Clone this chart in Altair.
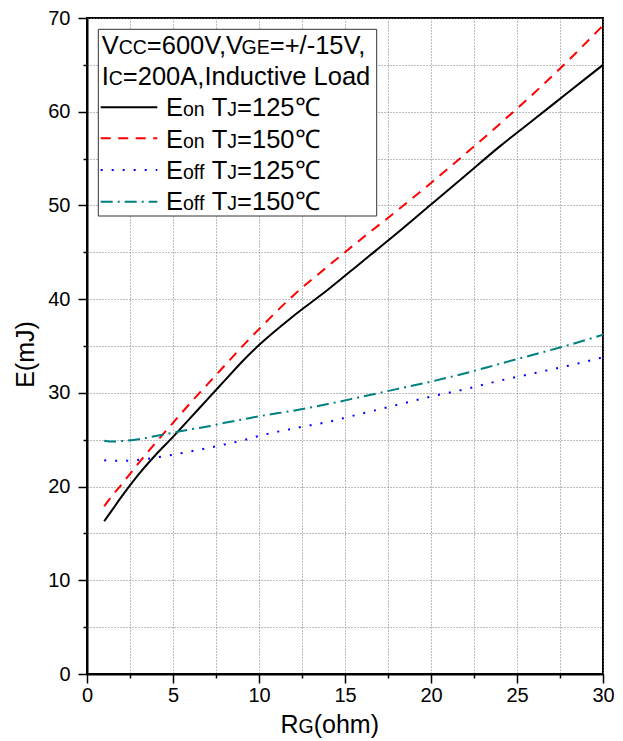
import altair as alt
import pandas as pd

# ---------------- data ----------------
rg = [1, 1.5, 2, 3, 4, 5, 6, 7, 8, 9, 10, 12, 14, 16, 18, 20, 22, 24, 26, 28, 30]
eon_125 = [16.3, 17.6, 18.9, 21.3, 23.4, 25.3, 27.3, 29.3, 31.3, 33.3, 35.1, 38.2, 41.0, 44.0, 47.0, 50.1, 53.2, 56.3, 59.2, 62.1, 65.0]
eon_150 = [17.9, 19.1, 20.2, 22.5, 24.7, 26.8, 28.9, 30.9, 32.9, 34.9, 36.8, 40.4, 43.5, 46.5, 49.4, 52.4, 55.5, 58.7, 62.0, 65.5, 69.2]
eoff_125 = [22.8, 22.75, 22.75, 22.85, 23.1, 23.4, 23.75, 24.1, 24.5, 24.9, 25.4, 26.2, 26.9, 27.8, 28.7, 29.6, 30.4, 31.3, 32.1, 32.9, 33.8]
eoff_150 = [24.9, 24.8, 24.85, 25.05, 25.4, 25.75, 26.1, 26.4, 26.8, 27.15, 27.5, 28.1, 28.8, 29.6, 30.4, 31.2, 32.1, 33.1, 34.1, 35.1, 36.2]

x_ticks = [0, 2.5, 5, 7.5, 10, 12.5, 15, 17.5, 20, 22.5, 25, 27.5, 30]
y_ticks = [0, 5, 10, 15, 20, 25, 30, 35, 40, 45, 50, 55, 60, 65, 70]

header_lines = [
    [("V", 0), ("CC", 1), ("=600V,V", 0), ("GE", 1), ("=+/-15V,", 0)],
    [("I", 0), ("C", 1), ("=200A,Inductive Load", 0)],
]
entry_lines = [
    [("E", 0), ("on", 1), (" T", 0), ("J", 1), ("=125℃", 0)],
    [("E", 0), ("on", 1), (" T", 0), ("J", 1), ("=150℃", 0)],
    [("E", 0), ("off", 1), (" T", 0), ("J", 1), ("=125℃", 0)],
    [("E", 0), ("off", 1), (" T", 0), ("J", 1), ("=150℃", 0)],
]
xtitle = [("R", 0), ("G", 1), ("(ohm)", 0)]

FONT = "Liberation Sans"
W, H = 516, 656

# Arial advance widths (1/1000 em) and a few kerning pairs
AW = {' ': 278, '(': 333, ')': 333, '+': 584, ',': 278, '-': 333, '/': 278, '=': 584,
      'A': 667, 'C': 722, 'E': 667, 'G': 778, 'I': 278, 'J': 500, 'L': 556, 'R': 722,
      'T': 611, 'V': 667, 'a': 556, 'c': 500, 'd': 556, 'e': 556, 'f': 278, 'h': 556,
      'i': 222, 'm': 833, 'n': 556, 'o': 556, 't': 278, 'u': 556, 'v': 500}
for dch in "0123456789":
    AW[dch] = 556
KERN = {("V", ","): -148, ("1", "1"): -74}


def text_width(t, fs):
    w = sum(AW.get(ch, 1000) for ch in t)
    for a, b in zip(t, t[1:]):
        w += KERN.get((a, b), 0)
    return w * fs / 1000


def seg_rows(parts, x0, y, big, small):
    rows = []
    x = x0
    for txt, sm in parts:
        fs = small if sm else big
        lead = len(txt) - len(txt.lstrip(' '))
        x += lead * AW[' '] * fs / 1000
        t = txt.lstrip(' ')
        rows.append({"px": x, "py": y, "t": t, "fs": fs})
        x += text_width(t, fs)
    return rows


rows = []
hdr_y = [36, 67]
for parts, y in zip(header_lines, hdr_y):
    rows += seg_rows(parts, 14.7, y, 25.5, 19.5)
ent_y = [98, 129.5, 160.5, 191.5]
for parts, y in zip(entry_lines, ent_y):
    rows += seg_rows(parts, 79, y, 25.5, 19.5)
rows += seg_rows(xtitle, 193.5, 715, 25, 19.5)
text_df = pd.DataFrame(rows)

# ---------------- chart ----------------
x_scale = alt.Scale(domain=[0, 30], nice=False, zero=False)
y_scale = alt.Scale(domain=[0, 70], nice=False)

x_axis = alt.Axis(
    values=x_ticks, title=None,
    labelExpr="datum.value % 5 === 0 ? datum.label : ''",
    tickSize={"condition": {"test": "datum.value % 5 === 0", "value": 9}, "value": 4},
    labelPadding=2, labelFontSize=20, labelFont=FONT, labelColor="black",
    grid=True, gridDash=[1, 2], gridColor="#7a7a7a", gridWidth=1,
    domainColor="black", domainWidth=2, tickColor="black", tickWidth=1.5,
    labelFlush=False,
)
y_axis = alt.Axis(
    values=y_ticks, title="E(mJ)",
    labelExpr="datum.value % 10 === 0 ? datum.label : ''",
    tickSize={"condition": {"test": "datum.value % 10 === 0", "value": 9}, "value": 4},
    labelPadding=8, labelFontSize=20, labelFont=FONT, labelColor="black",
    grid=True, gridDash=[1, 2], gridColor="#7a7a7a", gridWidth=1,
    domainColor="black", domainWidth=2, tickColor="black", tickWidth=1.5,
    titleFont=FONT, titleFontSize=25, titleFontWeight="normal", titleColor="black",
    titleAngle=270, titleX=-54, titleY=336, titleBaseline="alphabetic", titleAlign="center",
    labelFlush=False,
)

series = [
    (eon_125, "black", None),
    (eon_150, "#ff0000", [10, 7.5]),
    (eoff_125, "#0000ff", [2, 9]),
    (eoff_150, "#008080", [12, 5, 2, 5]),
]

layers = []
for i, (vals, col, dash) in enumerate(series):
    df = pd.DataFrame({"R": rg, "E": vals})
    kw = dict(color=col, strokeWidth=2, interpolate="monotone", clip=True)
    if dash is not None:
        kw["strokeDash"] = dash
    enc = dict(x=alt.X("R:Q", scale=x_scale), y=alt.Y("E:Q", scale=y_scale))
    if i == 0:
        enc = dict(x=alt.X("R:Q", scale=x_scale, axis=x_axis),
                   y=alt.Y("E:Q", scale=y_scale, axis=y_axis))
    layers.append(alt.Chart(df).mark_line(**kw).encode(**enc))

# legend box
box = alt.Chart(pd.DataFrame({"a": [0]})).mark_rect(
    fill="white", stroke="#333333", strokeWidth=1
).encode(x=alt.value(11.3), x2=alt.value(289.7), y=alt.value(11.3), y2=alt.value(198))
layers.append(box)

sym_y = [89.3, 120.3, 152, 183.7]
for (vals, col, dash), yy in zip(series, sym_y):
    kw = dict(color=col, strokeWidth=2)
    if dash is not None:
        kw["strokeDash"] = dash
    layers.append(
        alt.Chart(pd.DataFrame({"a": [0]})).mark_rule(**kw).encode(
            x=alt.value(13.7), x2=alt.value(70.3), y=alt.value(yy))
    )

texts = alt.Chart(text_df).mark_text(
    align="left", baseline="alphabetic", font=FONT, color="black"
).encode(
    x=alt.X("px:Q", scale=None),
    y=alt.Y("py:Q", scale=None),
    size=alt.Size("fs:Q", scale=None, legend=None),
    text="t:N",
)
layers.append(texts)

chart = alt.layer(*layers).properties(
    width=W, height=H,
    autosize=alt.AutoSizeParams(type="none"),
    padding={"left": 87, "top": 18, "right": 20, "bottom": 67},
    background="white",
).configure_view(stroke="black", strokeWidth=2)

chart.save("out.html", embed_options={"renderer": "svg", "actions": False})
